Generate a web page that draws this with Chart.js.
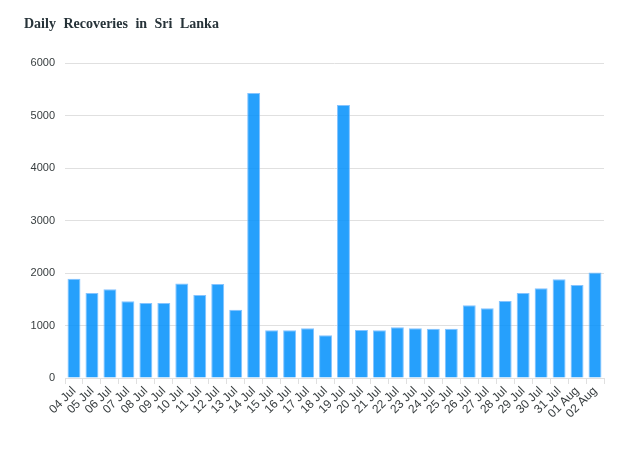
<!DOCTYPE html>
<html>
<head>
<meta charset="utf-8">
<script src="https://cdn.jsdelivr.net/npm/chart.js@4"></script>
<style>
  html, body { margin: 0; padding: 0; background: #fff; }
  #wrap { position: relative; width: 622px; height: 452px; }
  #title {
    position: absolute; left: 24px; top: 16px;
    font: bold 14px "Liberation Serif", "Times New Roman", serif;
    word-spacing: 4px; color: #263238;
  }
</style>
</head>
<body>
<div id="wrap">
  <div id="title">Daily Recoveries in Sri Lanka</div>
  <canvas id="recoveries" width="622" height="452"></canvas>
</div>
<script>
// dates shown on the x axis
var days = ["04 Jul", "05 Jul", "06 Jul", "07 Jul", "08 Jul", "09 Jul", "10 Jul", "11 Jul",
            "12 Jul", "13 Jul", "14 Jul", "15 Jul", "16 Jul", "17 Jul", "18 Jul", "19 Jul",
            "20 Jul", "21 Jul", "22 Jul", "23 Jul", "24 Jul", "25 Jul", "26 Jul", "27 Jul",
            "28 Jul", "29 Jul", "30 Jul", "31 Jul", "01 Aug", "02 Aug"];

// recoveries per day
var recoveries = [1890, 1620, 1690, 1460, 1430, 1430, 1800, 1580, 1790, 1300,
                  5430, 910, 910, 950, 815, 5200, 915, 910, 965, 950,
                  940, 940, 1385, 1330, 1465, 1620, 1710, 1880, 1770, 2010];

var yTicks = [0, 1000, 2000, 3000, 4000, 5000, 6000];

document.addEventListener("DOMContentLoaded", function() {
    var ctx = document.getElementById("recoveries").getContext("2d");
    new Chart(ctx, {
        type: "bar",
        data: {
            labels: days,
            datasets: [{
                label: "Recoveries",
                data: recoveries,
                backgroundColor: "rgba(0, 143, 251, 0.85)",
                borderColor: "rgba(120, 190, 255, 0.9)",
                borderWidth: 1,
                barPercentage: 0.72,
                categoryPercentage: 1
            }]
        },
        options: {
            responsive: false,
            animation: false,
            layout: { padding: { left: 0, right: 18, top: 63, bottom: 0 } },
            plugins: {
                legend: { display: false },
                tooltip: { enabled: false }
            },
            scales: {
                x: {
                    grid: {
                        display: true,
                        drawOnChartArea: false,
                        color: "#e0e0e0",
                        tickLength: 6
                    },
                    border: { color: "#e0e0e0" },
                    ticks: {
                        color: "#373d3f",
                        font: { family: "Liberation Sans, Arial", size: 12 },
                        minRotation: 45,
                        maxRotation: 45,
                        autoSkip: false,
                        padding: 0
                    },
                    afterFit: function(scale) { scale.height = 74; }
                },
                y: {
                    min: 0,
                    max: 6000,
                    afterBuildTicks: function(scale) {
                        scale.ticks = yTicks.map(function(v) { return { value: v }; });
                    },
                    grid: { color: "#e0e0e0", drawTicks: false },
                    border: { display: false },
                    ticks: {
                        color: "#373d3f",
                        font: { family: "Liberation Sans, Arial", size: 11 },
                        padding: 10,
                        callback: function(v) { return String(v); }
                    },
                    afterFit: function(scale) { scale.width = 65; }
                }
            }
        }
    });
});
</script>
</body>
</html>
